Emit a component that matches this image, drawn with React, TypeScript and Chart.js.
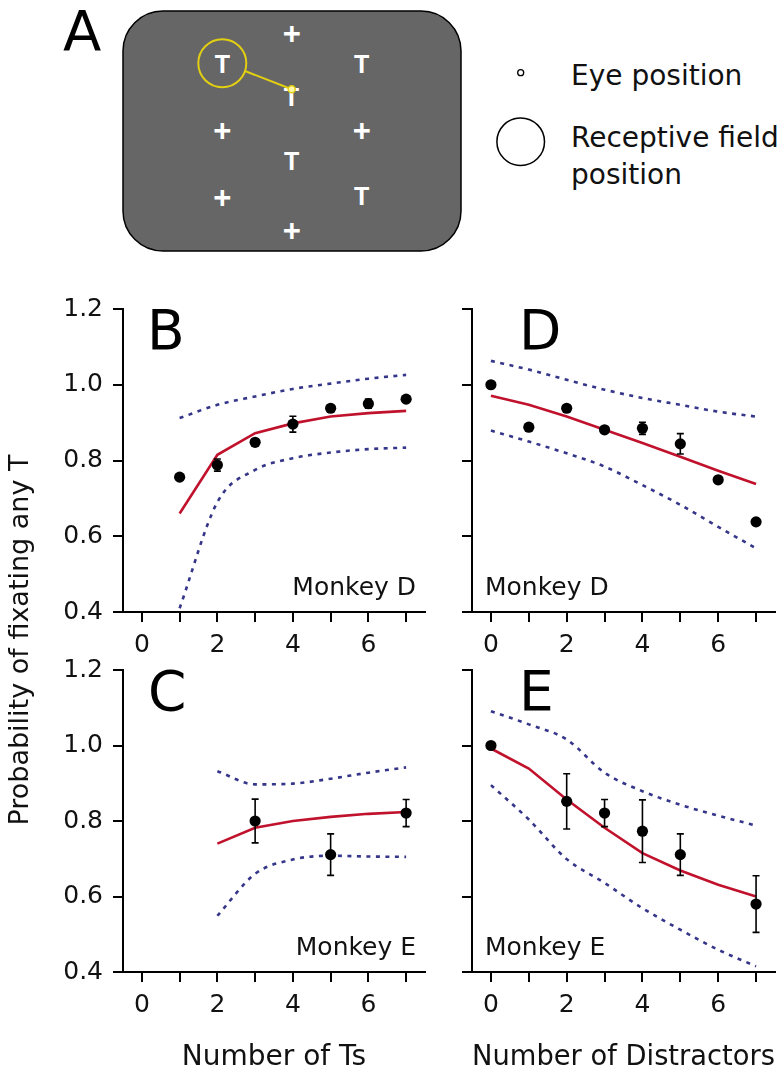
import React, { useEffect, useRef } from 'react';
import { Chart, registerables } from 'chart.js';

Chart.register(...registerables);

const W = 783;
const H = 1077;
const FONT = '"DejaVu Sans", sans-serif';
const RED = '#c0122c';
const BLUE = '#35358a';
const INK = '#111111';

// ---------- shared tick values ----------
const xTickValues = [0, 1, 2, 3, 4, 5, 6, 7];
const yTickValues = [0.4, 0.6, 0.8, 1.0, 1.2];

// ---------- Panel B : Monkey D, Number of Ts ----------
const xB = [1, 2, 3, 4, 5, 6, 7];
const dotsB = [0.756, 0.788, 0.848, 0.896, 0.938, 0.950, 0.962];
const errB = [0.006, 0.016, 0.008, 0.021, 0.006, 0.012, 0.006];
const modelB = [0.660, 0.815, 0.872, 0.898, 0.916, 0.925, 0.931];
const upperB = [0.912, 0.947, 0.969, 0.989, 1.003, 1.016, 1.026];
const lowerB = [0.410, 0.690, 0.775, 0.806, 0.821, 0.830, 0.834];

// ---------- Panel C : Monkey E, Number of Ts ----------
const xCdots = [3, 5, 7];
const dotsC = [0.800, 0.711, 0.821];
const errC = [0.058, 0.055, 0.036];
const xCmodel = [2, 3, 4, 5, 6, 7];
const modelC = [0.740, 0.782, 0.800, 0.811, 0.819, 0.824];
const upperC = [0.932, 0.897, 0.899, 0.912, 0.928, 0.942];
const lowerC = [0.549, 0.660, 0.698, 0.708, 0.706, 0.705];

// ---------- Panel D : Monkey D, Number of Distractors ----------
const xD = [0, 1, 2, 3, 4, 5, 6, 7];
const dotsD = [1.000, 0.888, 0.938, 0.881, 0.885, 0.844, 0.749, 0.638];
const errD = [0.005, 0.008, 0.008, 0.008, 0.016, 0.027, 0.006, 0.006];
const modelD = [0.971, 0.947, 0.916, 0.881, 0.846, 0.810, 0.773, 0.738];
const upperD = [1.063, 1.040, 1.013, 0.987, 0.965, 0.947, 0.929, 0.916];
const lowerD = [0.879, 0.850, 0.819, 0.784, 0.735, 0.683, 0.625, 0.568];

// ---------- Panel E : Monkey E, Number of Distractors ----------
const xEdots = [0, 2, 3, 4, 5, 7];
const dotsE = [1.000, 0.852, 0.821, 0.773, 0.711, 0.580];
const errE = [0.005, 0.073, 0.036, 0.083, 0.055, 0.075];
const xEmodel = [0, 1, 2, 3, 4, 5, 6, 7];
const modelE = [0.992, 0.939, 0.857, 0.782, 0.715, 0.669, 0.631, 0.600];
const upperE = [1.091, 1.056, 1.016, 0.928, 0.879, 0.843, 0.814, 0.788];
const lowerE = [0.895, 0.804, 0.699, 0.636, 0.569, 0.512, 0.459, 0.415];

// ---------- Panel A schematic items ----------
const stimuli = [
  { s: '+', x: 291.7, y: 44 },
  { s: 'T', x: 222.5, y: 73 },
  { s: 'T', x: 361.7, y: 73 },
  { s: 'T', x: 291.5, y: 106 },
  { s: '+', x: 222.3, y: 141 },
  { s: '+', x: 361.7, y: 141 },
  { s: 'T', x: 291.7, y: 170 },
  { s: '+', x: 222.3, y: 208 },
  { s: 'T', x: 361.7, y: 205 },
  { s: '+', x: 291.7, y: 241 },
];

type Area = { left: number; top: number; right: number; bottom: number };
type Panel = {
  area: Area;
  xAxisH: number;
  dotsX: number[];
  dots: number[];
  err: number[];
  modelX: number[];
  model: number[];
  upper: number[];
  lower: number[];
  letter: string;
  letterDx: number;
  monkey: string;
  monkeyAlign: 'left' | 'right';
  yLabels: boolean;
  xTitle?: string;
  yTitle?: string;
};

const panels: Panel[] = [
  {
    area: { left: 123, top: 309, right: 425, bottom: 612 }, xAxisH: 60,
    dotsX: xB, dots: dotsB, err: errB, modelX: xB, model: modelB, upper: upperB, lower: lowerB,
    letter: 'B', letterDx: 24, monkey: 'Monkey D', monkeyAlign: 'right', yLabels: true,
    yTitle: 'Probability of fixating any T',
  },
  {
    area: { left: 472, top: 309, right: 775, bottom: 612 }, xAxisH: 60,
    dotsX: xD, dots: dotsD, err: errD, modelX: xD, model: modelD, upper: upperD, lower: lowerD,
    letter: 'D', letterDx: 47, monkey: 'Monkey D', monkeyAlign: 'left', yLabels: false,
  },
  {
    area: { left: 123, top: 670, right: 425, bottom: 972 }, xAxisH: 103,
    dotsX: xCdots, dots: dotsC, err: errC, modelX: xCmodel, model: modelC, upper: upperC, lower: lowerC,
    letter: 'C', letterDx: 25, monkey: 'Monkey E', monkeyAlign: 'right', yLabels: true,
    xTitle: 'Number of Ts',
  },
  {
    area: { left: 472, top: 670, right: 775, bottom: 972 }, xAxisH: 103,
    dotsX: xEdots, dots: dotsE, err: errE, modelX: xEmodel, model: modelE, upper: upperE, lower: lowerE,
    letter: 'E', letterDx: 47, monkey: 'Monkey E', monkeyAlign: 'left', yLabels: false,
    xTitle: 'Number of Distractors',
  },
];

const errorBarPlugin = {
  id: 'errorBars',
  afterDatasetsDraw(chart: any, _args: any, opts: any) {
    const { xs, ys, errs } = opts;
    const ctx = chart.ctx;
    const xS = chart.scales.x;
    const yS = chart.scales.y;
    ctx.save();
    ctx.strokeStyle = '#000';
    ctx.lineWidth = 1.6;
    xs.forEach((x: number, i: number) => {
      const e = errs[i];
      if (!e) return;
      const px = xS.getPixelForValue(x);
      const y1 = yS.getPixelForValue(ys[i] - e);
      const y2 = yS.getPixelForValue(ys[i] + e);
      ctx.beginPath();
      ctx.moveTo(px, y1);
      ctx.lineTo(px, y2);
      ctx.moveTo(px - 3.5, y1);
      ctx.lineTo(px + 3.5, y1);
      ctx.moveTo(px - 3.5, y2);
      ctx.lineTo(px + 3.5, y2);
      ctx.stroke();
    });
    ctx.restore();
  },
};

const decorPlugin = {
  id: 'decor',
  afterDraw(chart: any, _args: any, opts: any) {
    const ctx = chart.ctx;
    const a = chart.chartArea;
    ctx.save();
    ctx.fillStyle = '#000';
    ctx.textBaseline = 'alphabetic';
    ctx.font = `55px ${FONT}`;
    ctx.textAlign = 'left';
    ctx.fillText(opts.letter, a.left + opts.letterDx, a.top + 40);
    ctx.fillStyle = INK;
    ctx.font = `25px ${FONT}`;
    if (opts.monkeyAlign === 'right') {
      ctx.textAlign = 'right';
      ctx.fillText(opts.monkey, a.right - 9, a.bottom - 17);
    } else {
      ctx.textAlign = 'left';
      ctx.fillText(opts.monkey, a.left + 13, a.bottom - 17);
    }
    if (opts.yTitle) {
      ctx.translate(28, 640);
      ctx.rotate(-Math.PI / 2);
      ctx.textAlign = 'center';
      ctx.font = `27px ${FONT}`;
      ctx.fillText(opts.yTitle, 0, 0);
    }
    ctx.restore();
  },
};

function zeroPad(s: any) {
  s.paddingLeft = 0;
  s.paddingRight = 0;
  s.paddingTop = 0;
  s.paddingBottom = 0;
}

function makeConfig(p: Panel): any {
  const pts = (xs: number[], ys: number[]) => xs.map((x, i) => ({ x, y: ys[i] }));
  const tickGrid = {
    display: true,
    drawOnChartArea: false,
    drawTicks: true,
    tickLength: 10,
    color: '#000',
    lineWidth: 2,
  };
  return {
    type: 'line',
    data: {
      datasets: [
        {
          label: 'data',
          data: pts(p.dotsX, p.dots),
          showLine: false,
          pointRadius: 5.6,
          pointBackgroundColor: '#000',
          pointBorderColor: '#000',
          pointBorderWidth: 0,
          order: 0,
        },
        {
          label: 'model',
          data: pts(p.modelX, p.model),
          borderColor: RED,
          borderWidth: 2.6,
          pointRadius: 0,
          tension: 0,
          fill: false,
          order: 1,
        },
        {
          label: 'upper',
          data: pts(p.modelX, p.upper),
          borderColor: BLUE,
          borderWidth: 2.6,
          borderDash: [4, 5.5],
          pointRadius: 0,
          cubicInterpolationMode: 'monotone',
          fill: false,
          order: 2,
        },
        {
          label: 'lower',
          data: pts(p.modelX, p.lower),
          borderColor: BLUE,
          borderWidth: 2.6,
          borderDash: [4, 5.5],
          pointRadius: 0,
          cubicInterpolationMode: 'monotone',
          fill: false,
          order: 2,
        },
      ],
    },
    options: {
      responsive: false,
      animation: false,
      devicePixelRatio: 1,
      events: [],
      layout: {
        padding: {
          left: p.area.left - 60,
          right: W - p.area.right,
          top: p.area.top,
          bottom: H - p.area.bottom - p.xAxisH,
        },
      },
      plugins: {
        legend: { display: false },
        tooltip: { enabled: false },
        errorBars: { xs: p.dotsX, ys: p.dots, errs: p.err },
        decor: {
          letter: p.letter,
          letterDx: p.letterDx,
          monkey: p.monkey,
          monkeyAlign: p.monkeyAlign,
          yTitle: p.yTitle,
        },
      },
      scales: {
        x: {
          type: 'linear',
          min: -0.5,
          max: 7.5,
          afterBuildTicks: (s: any) => {
            s.ticks = xTickValues.map((v) => ({ value: v }));
          },
          afterFit: (s: any) => {
            s.height = p.xAxisH;
            zeroPad(s);
          },
          grid: tickGrid,
          border: { display: true, color: '#000', width: 2 },
          ticks: {
            font: { family: FONT, size: 25 },
            color: INK,
            padding: 8,
            maxRotation: 0,
            autoSkip: false,
            callback: (v: any) => (Number(v) % 2 === 0 ? String(v) : ''),
          },
          title: p.xTitle
            ? {
                display: true,
                text: p.xTitle,
                font: { family: FONT, size: 28 },
                color: INK,
                padding: 0,
              }
            : { display: false },
        },
        y: {
          type: 'linear',
          min: 0.4,
          max: 1.2,
          afterBuildTicks: (s: any) => {
            s.ticks = yTickValues.map((v) => ({ value: v }));
          },
          afterFit: (s: any) => {
            s.width = 60;
            zeroPad(s);
          },
          grid: tickGrid,
          border: { display: true, color: '#000', width: 2 },
          ticks: {
            font: { family: FONT, size: 25 },
            color: INK,
            padding: 10,
            callback: (v: any) => (p.yLabels ? Number(v).toFixed(1) : ''),
          },
        },
      },
    },
    plugins: [errorBarPlugin, decorPlugin],
  };
}

function PanelChart({ panel }: { panel: Panel }) {
  const ref = useRef<HTMLCanvasElement | null>(null);
  useEffect(() => {
    if (!ref.current) return;
    const chart = new Chart(ref.current, makeConfig(panel));
    return () => chart.destroy();
  }, [panel]);
  return (
    <canvas
      ref={ref}
      width={W}
      height={H}
      style={{ position: 'absolute', left: 0, top: 0, width: W, height: H }}
    />
  );
}

function PanelA() {
  const YEL = '#e3cf12';
  return (
    <svg
      width={W}
      height={260}
      style={{ position: 'absolute', left: 0, top: 0 }}
      xmlns="http://www.w3.org/2000/svg"
    >
      <text x={63} y={50} fontFamily="DejaVu Sans" fontSize={56} fill="#000">
        A
      </text>
      <rect x={123} y={11} width={338} height={240} rx={40} ry={40} fill="#666666" stroke="#000" strokeWidth={1.5} />
      {stimuli.map((d, i) => (
        <text
          key={i}
          x={d.x}
          y={d.y}
          textAnchor="middle"
          fontFamily="Liberation Sans"
          fontWeight="bold"
          fontSize={d.s === '+' ? 31 : 25}
          fill="#ffffff"
        >
          {d.s}
        </text>
      ))}
      <circle cx={222.3} cy={63.3} r={24} fill="none" stroke={YEL} strokeWidth={2} />
      <line x1={245} y1={71} x2={291.7} y2={89.3} stroke={YEL} strokeWidth={2} />
      <circle cx={291.7} cy={89.3} r={3.5} fill="#fff7a8" stroke={YEL} strokeWidth={1.5} />
      <circle cx={520.7} cy={72.7} r={3} fill="#fff" stroke="#000" strokeWidth={1.3} />
      <text x={571} y={85} fontFamily="DejaVu Sans" fontSize={28} fill={INK}>
        Eye position
      </text>
      <circle cx={520.7} cy={141.7} r={23.8} fill="#fff" stroke="#000" strokeWidth={1.5} />
      <text x={571} y={147} fontFamily="DejaVu Sans" fontSize={28} fill={INK}>
        Receptive field
      </text>
      <text x={571} y={184} fontFamily="DejaVu Sans" fontSize={28} fill={INK}>
        position
      </text>
    </svg>
  );
}

export default function App() {
  return (
    <div
      style={{
        position: 'absolute',
        left: 0,
        top: 0,
        width: W,
        height: H,
        background: '#ffffff',
        overflow: 'hidden',
      }}
    >
      <PanelA />
      {panels.map((p, i) => (
        <PanelChart key={i} panel={p} />
      ))}
    </div>
  );
}
